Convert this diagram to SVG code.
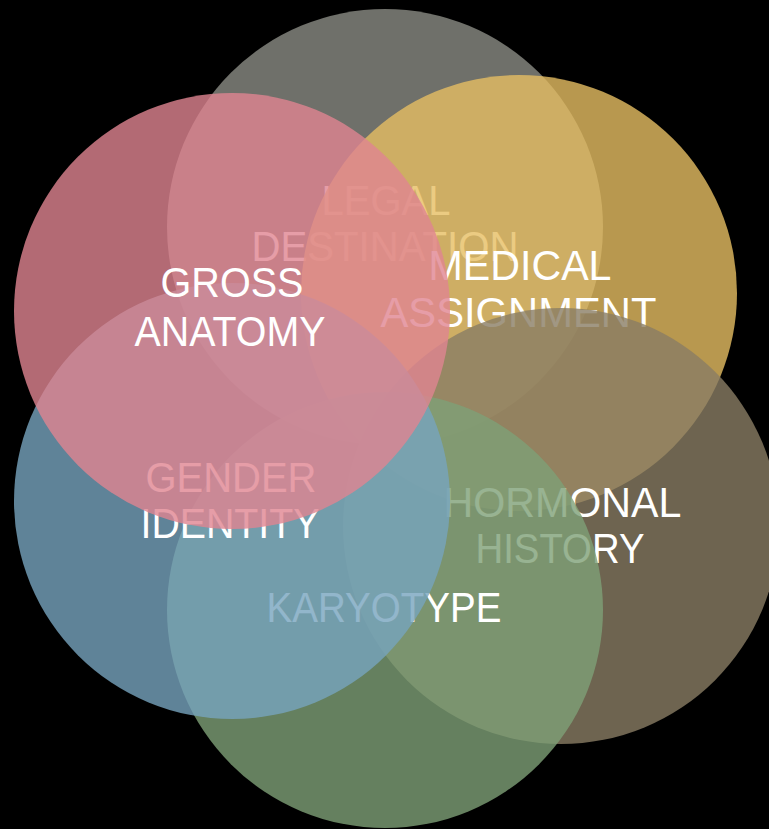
<svg xmlns="http://www.w3.org/2000/svg" width="769" height="829" viewBox="0 0 769 829">
<style>
  .c { opacity: 0.8; }
  .t { font-family: "Liberation Sans", Arial, sans-serif; font-size: 42px; fill: #ffffff; text-anchor: middle; }
</style>
<rect width="769" height="829" fill="#000000"/>
<g id="legal-destination">
  <circle class="c" cx="385" cy="227" r="218" fill="#8b8c85"/>
  <text class="t" x="386" y="215" textLength="129" lengthAdjust="spacingAndGlyphs">LEGAL</text>
  <text class="t" x="385" y="261" textLength="267" lengthAdjust="spacingAndGlyphs">DESTINATION</text>
</g>
<g id="medical-assignment">
  <circle class="c" cx="519" cy="293" r="218" fill="#e6be63"/>
  <text class="t" x="520" y="280" textLength="183" lengthAdjust="spacingAndGlyphs">MEDICAL</text>
  <text class="t" x="518.5" y="327" textLength="276" lengthAdjust="spacingAndGlyphs">ASSIGNMENT</text>
</g>
<g id="hormonal-history">
  <circle class="c" cx="561" cy="526" r="218" fill="#8a7d64"/>
  <text class="t" x="562.5" y="517" textLength="238" lengthAdjust="spacingAndGlyphs">HORMONAL</text>
  <text class="t" x="560" y="563" textLength="169" lengthAdjust="spacingAndGlyphs">HISTORY</text>
</g>
<g id="karyotype">
  <circle class="c" cx="385" cy="610" r="218" fill="#7ea077"/>
  <text class="t" x="384" y="622" textLength="235" lengthAdjust="spacingAndGlyphs">KARYOTYPE</text>
</g>
<g id="gender-identity">
  <circle class="c" cx="232" cy="501" r="218" fill="#77a4be"/>
  <text class="t" x="231" y="492" textLength="171" lengthAdjust="spacingAndGlyphs">GENDER</text>
  <text class="t" x="230" y="538" textLength="179" lengthAdjust="spacingAndGlyphs">IDENTITY</text>
</g>
<g id="gross-anatomy">
  <circle class="c" cx="232" cy="311" r="218" fill="#e08591"/>
  <text class="t" x="232" y="297" textLength="143" lengthAdjust="spacingAndGlyphs">GROSS</text>
  <text class="t" x="230" y="346" textLength="191" lengthAdjust="spacingAndGlyphs">ANATOMY</text>
</g>
<g id="connectors"></g>
</svg>
